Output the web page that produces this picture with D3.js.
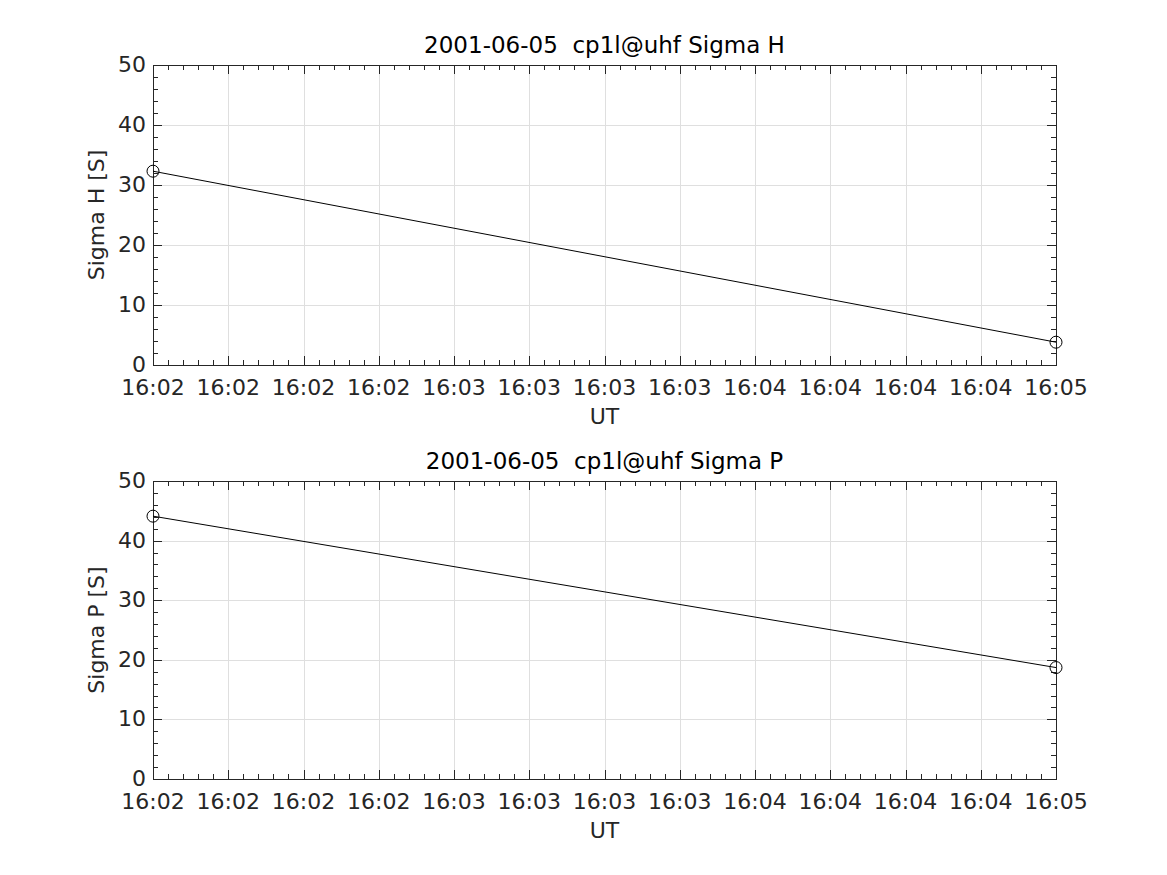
<!DOCTYPE html>
<html lang="en">
<head>
  <meta charset="UTF-8">
  <title>Sigma H / Sigma P</title>
  <script src="https://d3js.org/d3.v7.min.js"></script>
  <style>
    body { margin: 0; background: #fff; }
    text { font-family: "DejaVu Sans", sans-serif; white-space: pre; }
  </style>
</head>
<body>
<script>
  // data
  const times = ["2001-06-05T16:02:00Z", "2001-06-05T16:05:00Z"];
  const sigmaH = [32.3, 3.8];
  const sigmaP = [44.1, 18.7];
  const titles = ["2001-06-05  cp1l@uhf Sigma H", "2001-06-05  cp1l@uhf Sigma P"];
  const yLabels = ["Sigma H [S]", "Sigma P [S]"];
  const yTicks = [0, 10, 20, 30, 40, 50];

  const W = 1167, H = 875;
  const left = 153, right = 1056;
  const fs = 22;
  const panels = [
    { top: 65, bottom: 365, values: sigmaH },
    { top: 481, bottom: 779, values: sigmaP }
  ];

  const svg = d3.select("body").append("svg")
    .attr("width", W)
    .attr("height", H);

  const dates = times.map(t => new Date(t));
  const fmt = d3.utcFormat("%H:%M");

  panels.forEach((p, k) => {
    const x = d3.scaleUtc().domain(d3.extent(dates)).range([left, right]);
    const y = d3.scaleLinear().domain([0, 50]).range([p.bottom, p.top]);

    const majorX = d3.utcSecond.every(15).range(dates[0], new Date(+dates[1] + 1));
    const minorX = d3.utcSecond.every(3).range(dates[0], new Date(+dates[1] + 1));
    const minorY = d3.range(0, 50.01, 2);

    const g = svg.append("g");

    // grid
    g.selectAll(".gx").data(majorX).join("line")
      .attr("x1", d => Math.round(x(d)) + 0.5).attr("x2", d => Math.round(x(d)) + 0.5)
      .attr("y1", p.top).attr("y2", p.bottom)
      .attr("stroke", "#dfdfdf").attr("stroke-width", 1);
    g.selectAll(".gy").data(yTicks).join("line")
      .attr("class", "gy")
      .attr("x1", left).attr("x2", right)
      .attr("y1", d => Math.round(y(d)) + 0.5).attr("y2", d => Math.round(y(d)) + 0.5)
      .attr("stroke", "#dfdfdf").attr("stroke-width", 1);

    // ticks (inward, all four sides)
    const tk = g.append("g").attr("stroke", "#262626").attr("stroke-width", 1);
    minorX.forEach(d => {
      const xx = Math.round(x(d)) + 0.5;
      tk.append("line").attr("x1", xx).attr("x2", xx).attr("y1", p.bottom).attr("y2", p.bottom - 5);
      tk.append("line").attr("x1", xx).attr("x2", xx).attr("y1", p.top).attr("y2", p.top + 5);
    });
    majorX.forEach(d => {
      const xx = Math.round(x(d)) + 0.5;
      tk.append("line").attr("x1", xx).attr("x2", xx).attr("y1", p.bottom).attr("y2", p.bottom - 9);
      tk.append("line").attr("x1", xx).attr("x2", xx).attr("y1", p.top).attr("y2", p.top + 9);
    });
    minorY.forEach(d => {
      const yy = Math.round(y(d)) + 0.5;
      tk.append("line").attr("x1", left).attr("x2", left + 5).attr("y1", yy).attr("y2", yy);
      tk.append("line").attr("x1", right).attr("x2", right - 5).attr("y1", yy).attr("y2", yy);
    });
    yTicks.forEach(d => {
      const yy = Math.round(y(d)) + 0.5;
      tk.append("line").attr("x1", left).attr("x2", left + 9).attr("y1", yy).attr("y2", yy);
      tk.append("line").attr("x1", right).attr("x2", right - 9).attr("y1", yy).attr("y2", yy);
    });

    // box
    g.append("rect")
      .attr("x", left + 0.5).attr("y", p.top + 0.5)
      .attr("width", right - left).attr("height", p.bottom - p.top)
      .attr("fill", "none").attr("stroke", "#262626").attr("stroke-width", 1);

    // tick labels
    g.selectAll(".xl").data(majorX).join("text")
      .attr("x", d => x(d)).attr("y", p.bottom + 30)
      .attr("text-anchor", "middle").attr("font-size", fs).attr("fill", "#262626")
      .text(d => fmt(d));
    g.selectAll(".yl").data(yTicks).join("text")
      .attr("x", left - 7).attr("y", d => y(d) + 7)
      .attr("text-anchor", "end").attr("font-size", fs).attr("fill", "#262626")
      .text(d => d);

    // axis titles
    g.append("text")
      .attr("x", (left + right) / 2).attr("y", p.bottom + 59)
      .attr("text-anchor", "middle").attr("font-size", fs).attr("fill", "#262626")
      .text("UT");
    g.append("text")
      .attr("transform", `translate(104,${(p.top + p.bottom) / 2}) rotate(-90)`)
      .attr("text-anchor", "middle").attr("font-size", fs).attr("fill", "#262626")
      .text(yLabels[k]);
    g.append("text")
      .attr("x", (left + right) / 2).attr("y", p.top - 12)
      .attr("text-anchor", "middle").attr("font-size", 23).attr("fill", "#000")
      .text(titles[k]);

    // series
    const pts = dates.map((d, i) => [d, p.values[i]]);
    g.append("path")
      .datum(pts)
      .attr("d", d3.line().x(d => x(d[0])).y(d => y(d[1])))
      .attr("fill", "none").attr("stroke", "#000").attr("stroke-width", 1);
    g.selectAll(".pt").data(pts).join("circle")
      .attr("cx", d => x(d[0])).attr("cy", d => y(d[1])).attr("r", 6)
      .attr("fill", "none").attr("stroke", "#000").attr("stroke-width", 1);
  });
</script>
</body>
</html>
